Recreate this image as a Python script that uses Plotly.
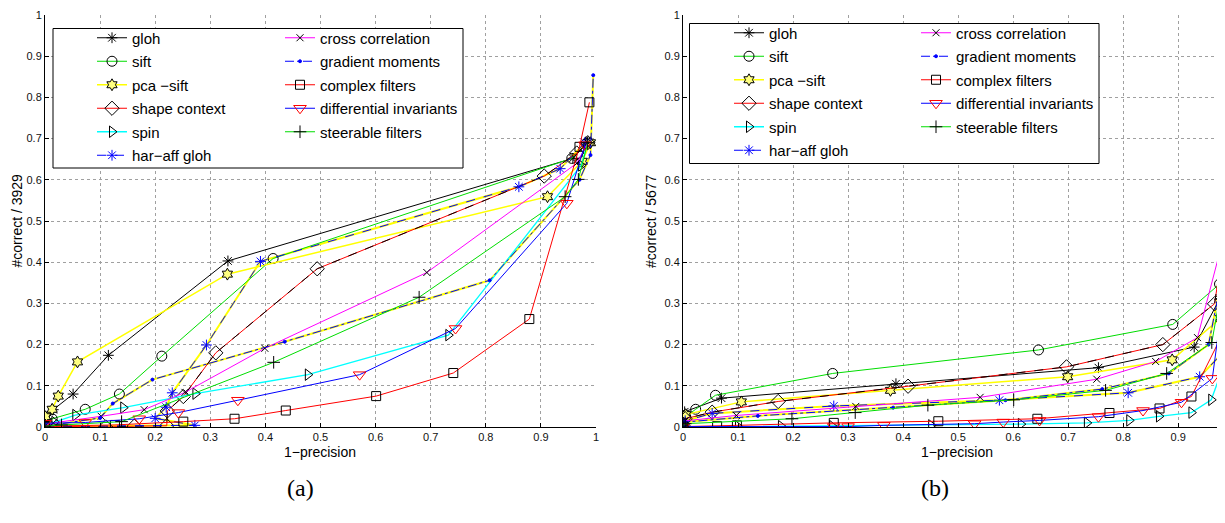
import plotly.graph_objects as go

# page body has an 8px margin: figure is sized/positioned to compensate
OFF = 8
W, H = 1225 - OFF, 523 - OFF

# ---------------- data: panel (a) ----------------
names = ["gloh", "sift", "pca −sift", "shape context", "spin", "har−aff gloh",
         "cross correlation", "gradient moments", "complex filters",
         "differential invariants", "steerable filters"]

a_gloh_x = [0, 0.004, 0.015, 0.051, 0.115, 0.332, 0.958, 0.985]
a_gloh_y = [0.003, 0.02, 0.042, 0.08, 0.174, 0.403, 0.652, 0.69]
a_sift_x = [0, 0.013, 0.073, 0.135, 0.212, 0.414, 0.956, 0.982]
a_sift_y = [0.005, 0.02, 0.043, 0.08, 0.172, 0.409, 0.652, 0.688]
a_pca_x = [0, 0.001, 0.013, 0.024, 0.059, 0.331, 0.912, 0.975, 0.99]
a_pca_y = [0.003, 0.025, 0.043, 0.075, 0.158, 0.371, 0.559, 0.645, 0.69]
a_shape_x = [0, 0.11, 0.162, 0.221, 0.222, 0.251, 0.31, 0.494, 0.906, 0.965, 0.985]
a_shape_y = [0.002, 0.0, 0.002, 0.003, 0.039, 0.074, 0.18, 0.384, 0.609, 0.665, 0.69]
a_spin_x = [0, 0.017, 0.055, 0.142, 0.273, 0.477, 0.732, 0.973, 0.985]
a_spin_y = [0.003, 0.012, 0.029, 0.047, 0.081, 0.127, 0.223, 0.635, 0.69]
a_haraff_x = [0, 0.272, 0.2, 0.22, 0.231, 0.293, 0.391, 0.86, 0.935, 0.98]
a_haraff_y = [0.002, 0.004, 0.021, 0.048, 0.083, 0.199, 0.402, 0.583, 0.627, 0.69]
a_cross_x = [0, 0.015, 0.102, 0.18, 0.254, 0.399, 0.693, 0.965, 0.985]
a_cross_y = [0.003, 0.01, 0.026, 0.042, 0.084, 0.191, 0.375, 0.64, 0.69]
a_grad_x = [0, 0.1, 0.123, 0.195, 0.435, 0.807, 0.97, 0.99, 0.995]
a_grad_y = [0.002, 0.022, 0.057, 0.115, 0.207, 0.356, 0.6, 0.66, 0.854]
a_complex_x = [0, 0.127, 0.251, 0.344, 0.437, 0.601, 0.741, 0.879, 0.97, 0.988]
a_complex_y = [0.002, 0.005, 0.013, 0.02, 0.04, 0.075, 0.131, 0.262, 0.68, 0.788]
a_diff_x = [0, 0.073, 0.171, 0.242, 0.35, 0.571, 0.745, 0.947, 0.98]
a_diff_y = [0.009, 0.011, 0.02, 0.035, 0.065, 0.127, 0.239, 0.543, 0.685]
a_steer_x = [0, 0.03, 0.139, 0.415, 0.679, 0.944, 0.968, 0.985]
a_steer_y = [0.002, 0.005, 0.013, 0.157, 0.315, 0.559, 0.601, 0.69]

# ---------------- data: panel (b) ----------------
b_gloh_x = [0, 0.003, 0.07, 0.387, 0.755, 0.929, 0.975, 1.0]
b_gloh_y = [0.005, 0.037, 0.07, 0.105, 0.144, 0.194, 0.31, 0.56]
b_sift_x = [0, 0.005, 0.023, 0.059, 0.272, 0.646, 0.89, 0.975, 1.0]
b_sift_y = [0.004, 0.025, 0.043, 0.077, 0.13, 0.187, 0.249, 0.347, 0.62]
b_pca_x = [0, 0.005, 0.106, 0.377, 0.699, 0.889, 0.977, 1.0]
b_pca_y = [0.005, 0.03, 0.061, 0.089, 0.122, 0.163, 0.264, 0.55]
b_shape_x = [0, 0.004, 0.053, 0.173, 0.409, 0.697, 0.872, 0.966, 1.0]
b_shape_y = [0.003, 0.02, 0.036, 0.062, 0.099, 0.146, 0.2, 0.299, 0.6]
b_spin_x = [0, 0.1, 0.178, 0.271, 0.451, 0.614, 0.734, 0.811, 0.865, 0.924, 0.96, 0.984, 1.0]
b_spin_y = [0.0, 0.001, 0.002, 0.002, 0.004, 0.007, 0.01, 0.016, 0.026, 0.035, 0.066, 0.154, 0.4]
b_haraff_x = [0, 0.004, 0.053, 0.274, 0.575, 0.809, 0.939, 0.983, 1.0]
b_haraff_y = [0.002, 0.015, 0.033, 0.051, 0.065, 0.083, 0.122, 0.183, 0.45]
b_cross_x = [0, 0.004, 0.097, 0.314, 0.54, 0.752, 0.859, 0.935, 1.0]
b_cross_y = [0.003, 0.015, 0.028, 0.05, 0.072, 0.116, 0.159, 0.217, 0.55]
b_grad_x = [0, 0.004, 0.136, 0.382, 0.586, 0.762, 0.883, 0.955, 1.0]
b_grad_y = [0.002, 0.012, 0.027, 0.047, 0.065, 0.092, 0.13, 0.2, 0.5]
b_complex_x = [0, 0.062, 0.098, 0.274, 0.464, 0.644, 0.775, 0.866, 0.924, 0.984, 1.0]
b_complex_y = [0.001, 0.002, 0.004, 0.01, 0.014, 0.02, 0.034, 0.045, 0.074, 0.235, 0.52]
b_diff_x = [0, 0.274, 0.3, 0.365, 0.53, 0.582, 0.648, 0.755, 0.836, 0.906, 0.962, 1.0]
b_diff_y = [0.001, 0.001, 0.001, 0.004, 0.008, 0.012, 0.016, 0.025, 0.04, 0.06, 0.118, 0.5]
b_steer_x = [0, 0.004, 0.198, 0.313, 0.445, 0.601, 0.768, 0.879, 0.961, 1.0]
b_steer_y = [0.002, 0.008, 0.02, 0.035, 0.053, 0.066, 0.089, 0.13, 0.205, 0.5]

tick_vals = [0, 0.1, 0.2, 0.3, 0.4, 0.5, 0.6, 0.7, 0.8, 0.9, 1]
tick_text = ["0", "0.1", "0.2", "0.3", "0.4", "0.5", "0.6", "0.7", "0.8", "0.9", "1"]

# ---------------- styles ----------------
GREEN = "#00dd00"
YELLOW = "#ffff00"
styles = [
    dict(lc="black", dash="solid", lw=1, sym="asterisk-open", mc="black", ms=9),
    dict(lc=GREEN, dash="solid", lw=1, sym="circle-open", mc="black", ms=10),
    dict(lc=YELLOW, dash="solid", lw=1.5, sym="hexagram", mc="#ffff80", ms=9, edge="black"),
    dict(lc="red", dash="solid", lw=1, sym="diamond-open", mc="black", ms=11, over="black", overdash="dash"),
    dict(lc="#00ffff", dash="solid", lw=1.3, sym="triangle-right-open", mc="black", ms=10),
    dict(lc="blue", dash="dash", lw=1, sym="asterisk-open", mc="blue", ms=9, base=YELLOW),
    dict(lc="#ff00ff", dash="solid", lw=1, sym="x-thin-open", mc="black", ms=7),
    dict(lc="blue", dash="dashdot", lw=1, sym="circle", mc="blue", ms=3, base=YELLOW),
    dict(lc="red", dash="solid", lw=1, sym="square-open", mc="black", ms=9),
    dict(lc="blue", dash="solid", lw=1, sym="triangle-down-open", mc="red", ms=11),
    dict(lc=GREEN, dash="solid", lw=1, sym="cross-thin-open", mc="black", ms=9),
]

a_data = [(a_gloh_x, a_gloh_y), (a_sift_x, a_sift_y), (a_pca_x, a_pca_y),
          (a_shape_x, a_shape_y), (a_spin_x, a_spin_y), (a_haraff_x, a_haraff_y),
          (a_cross_x, a_cross_y), (a_grad_x, a_grad_y), (a_complex_x, a_complex_y),
          (a_diff_x, a_diff_y), (a_steer_x, a_steer_y)]
b_data = [(b_gloh_x, b_gloh_y), (b_sift_x, b_sift_y), (b_pca_x, b_pca_y),
          (b_shape_x, b_shape_y), (b_spin_x, b_spin_y), (b_haraff_x, b_haraff_y),
          (b_cross_x, b_cross_y), (b_grad_x, b_grad_y), (b_complex_x, b_complex_y),
          (b_diff_x, b_diff_y), (b_steer_x, b_steer_y)]

fig = go.Figure()


def add_panel(data, xa, ya, leg1, leg2):
    for (x, y), st in zip(data, styles):
        if "base" in st:
            fig.add_trace(go.Scatter(x=x, y=y, mode="lines", xaxis=xa, yaxis=ya,
                                     line=dict(color=st["base"], width=2),
                                     showlegend=False, hoverinfo="skip"))
    for i, ((x, y), st) in enumerate(zip(data, styles)):
        marker = dict(symbol=st["sym"], color=st["mc"], size=st["ms"],
                      line=dict(width=1, color=st.get("edge", st["mc"])))
        leg = leg1 if i < 6 else leg2
        fig.add_trace(go.Scatter(x=x, y=y, mode="lines+markers", name=names[i],
                                 xaxis=xa, yaxis=ya,
                                 line=dict(color=st["lc"], dash=st["dash"], width=st["lw"]),
                                 marker=marker, legend=leg,
                                 legendgroup=f"{leg}_{i}"))
        if "over" in st:
            fig.add_trace(go.Scatter(x=x, y=y, mode="lines", xaxis=xa, yaxis=ya,
                                     line=dict(color=st["over"], dash=st["overdash"], width=1),
                                     showlegend=False, hoverinfo="skip"))


add_panel(a_data, "x", "y", "legend", "legend2")
add_panel(b_data, "x2", "y2", "legend3", "legend4")


def px(v):
    return (v - OFF) / W


def py(v):
    return 1 - (v - OFF) / H


axis_common = dict(
    showgrid=True, gridcolor="#a0a0a0", griddash="dot", gridwidth=1,
    zeroline=False, showline=True, linecolor="black", linewidth=1,
    ticks="inside", ticklen=4, tickcolor="black",
    tickfont=dict(family="Liberation Sans, Arial, sans-serif", size=11, color="#111"),
    tickvals=tick_vals, ticktext=tick_text, automargin=False, fixedrange=True,
)

y_dom = [py(427), py(15)]
fig.update_layout(
    width=W, height=H, margin=dict(l=0, r=0, t=0, b=0),
    paper_bgcolor="white", plot_bgcolor="white",
    font=dict(family="Liberation Sans, Arial, sans-serif", color="black"),
    xaxis=dict(domain=[px(45), px(596)], range=[0, 1], anchor="y", **axis_common),
    yaxis=dict(domain=y_dom, range=[0, 1], anchor="x", **axis_common),
    xaxis2=dict(domain=[px(683), 1.0], range=[0, 0.985], anchor="y2", **axis_common),
    yaxis2=dict(domain=y_dom, range=[0, 1], anchor="x2", **axis_common),
)

leg_common = dict(xanchor="left", yanchor="top", bgcolor="rgba(0,0,0,0)",
                  borderwidth=0, tracegroupgap=1, traceorder="grouped",
                  font=dict(family="Liberation Sans, Arial, sans-serif", size=15, color="black"))
fig.update_layout(
    legend=dict(x=px(92), y=py(21.5), **leg_common),
    legend2=dict(x=px(280), y=py(21.5), **leg_common),
    legend3=dict(x=px(729), y=py(16.5), **leg_common),
    legend4=dict(x=px(916), y=py(16.5), **leg_common),
)

fig.add_shape(type="rect", xref="paper", yref="paper", layer="above",
              x0=px(53), x1=px(463), y0=py(168), y1=py(28.5),
              line=dict(color="black", width=1), fillcolor="white")
fig.add_shape(type="rect", xref="paper", yref="paper", layer="above",
              x0=px(689.5), x1=px(1099), y0=py(163.5), y1=py(23.5),
              line=dict(color="black", width=1), fillcolor="white")

ann_font = dict(family="Liberation Sans, Arial, sans-serif", size=14, color="black")
annotations = [
    dict(text="1−precision", x=px(320), y=py(452), font=ann_font),
    dict(text="1−precision", x=px(957), y=py(452), font=ann_font),
    dict(text="#correct / 3929", x=px(16.5), y=py(221), textangle=-90, font=ann_font),
    dict(text="#correct / 5677", x=px(651), y=py(221), textangle=-90, font=ann_font),
    dict(text="(a)", x=px(300), y=py(488),
         font=dict(family="Liberation Serif, Times New Roman, serif", size=24, color="black")),
    dict(text="(b)", x=px(935), y=py(488),
         font=dict(family="Liberation Serif, Times New Roman, serif", size=24, color="black")),
]
for a in annotations:
    fig.add_annotation(xref="paper", yref="paper", showarrow=False,
                       xanchor="center", yanchor="middle", **a)

fig.write_html("out.html")
